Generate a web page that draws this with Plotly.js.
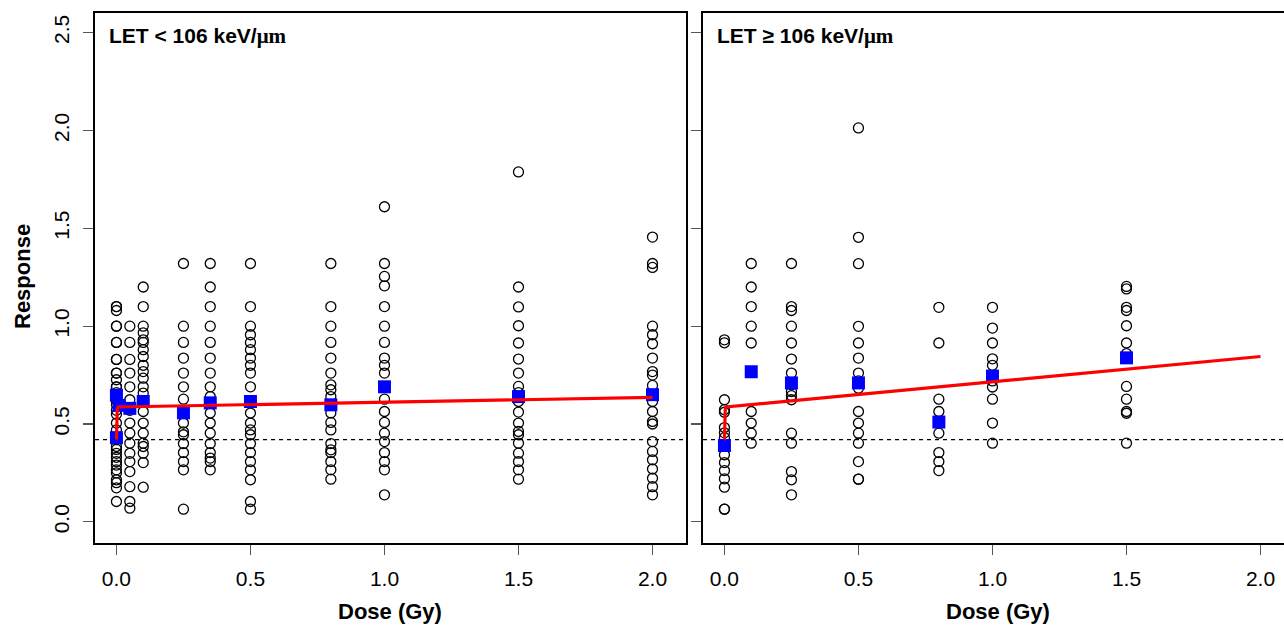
<!DOCTYPE html>
<html>
<head>
<meta charset="utf-8">
<script src="https://cdn.plot.ly/plotly-3.0.1.min.js"></script>
<style>
html,body{margin:0;padding:0;overflow:hidden;background:#fff;}
#chart{width:1300px;height:625px;}
</style>
</head>
<body>
<div id="chart"></div>
<script>
// ---- Data ----
const doseTicks = [0, 0.5, 1.0, 1.5, 2.0];
const doseTickText = ['0.0', '0.5', '1.0', '1.5', '2.0'];
const respTicks = [0, 0.5, 1.0, 1.5, 2.0, 2.5];
const respTickText = ['0.0', '0.5', '1.0', '1.5', '2.0', '2.5'];
const baseline = [0.42];

// Panel 1: LET < 106 keV/um, individual responses by dose
const lowDoses = [0, 0.05, 0.1, 0.25, 0.35, 0.5, 0.8, 1.0, 1.5, 2.0];
const low_0    = [1.10, 1.10, 1.08, 1.0, 1.0, 0.917, 0.917, 0.83, 0.83, 0.76, 0.76, 0.726, 0.69, 0.69, 0.66, 0.64, 0.62, 0.60, 0.57, 0.55, 0.505, 0.47, 0.436, 0.42, 0.385, 0.37, 0.35, 0.33, 0.308, 0.29, 0.266, 0.25, 0.215, 0.20, 0.174, 0.104];
const low_005  = [1.0, 0.917, 0.83, 0.76, 0.69, 0.624, 0.57, 0.505, 0.453, 0.402, 0.35, 0.308, 0.257, 0.18, 0.104, 0.07];
const low_01   = [1.20, 1.10, 1.0, 0.966, 0.93, 0.917, 0.88, 0.845, 0.80, 0.768, 0.734, 0.69, 0.658, 0.564, 0.505, 0.453, 0.402, 0.385, 0.351, 0.303, 0.177];
const low_025  = [1.32, 1.0, 0.917, 0.837, 0.76, 0.69, 0.627, 0.505, 0.46, 0.445, 0.40, 0.354, 0.308, 0.266, 0.065];
const low_035  = [1.32, 1.20, 1.10, 1.0, 0.917, 0.837, 0.76, 0.69, 0.64, 0.556, 0.505, 0.453, 0.40, 0.354, 0.326, 0.308, 0.266];
const low_05   = [1.32, 1.10, 1.0, 0.956, 0.917, 0.88, 0.837, 0.80, 0.76, 0.69, 0.556, 0.505, 0.47, 0.445, 0.40, 0.354, 0.308, 0.266, 0.215, 0.104, 0.065];
const low_08   = [1.32, 1.10, 1.0, 0.917, 0.837, 0.76, 0.70, 0.675, 0.64, 0.556, 0.508, 0.47, 0.40, 0.368, 0.354, 0.308, 0.266, 0.218];
const low_10   = [1.61, 1.32, 1.254, 1.206, 1.10, 1.0, 0.917, 0.837, 0.80, 0.76, 0.69, 0.627, 0.564, 0.508, 0.453, 0.41, 0.354, 0.308, 0.266, 0.138];
const low_15   = [1.788, 1.20, 1.098, 1.002, 0.914, 0.832, 0.76, 0.692, 0.66, 0.615, 0.561, 0.505, 0.462, 0.445, 0.402, 0.351, 0.308, 0.266, 0.218];
const low_20   = [1.455, 1.32, 1.30, 1.0, 0.956, 0.91, 0.837, 0.768, 0.75, 0.697, 0.615, 0.564, 0.513, 0.50, 0.41, 0.36, 0.317, 0.27, 0.223, 0.18, 0.138];
const lowGroups = [low_0, low_005, low_01, low_025, low_035, low_05, low_08, low_10, low_15, low_20];

// Panel 1 group means
const lowMeanDose = [0, 0, 0.01, 0.05, 0.1, 0.25, 0.35, 0.5, 0.8, 1.0, 1.5, 2.0];
const lowMeanResp = [0.43, 0.647, 0.595, 0.58, 0.615, 0.557, 0.608, 0.615, 0.598, 0.69, 0.64, 0.65];

// Panel 1 fitted curve
const lowFitDose = [0, 0.001, 0.003, 0.006, 2.0];
const lowFitResp = [0.42, 0.52, 0.575, 0.587, 0.636];

// Panel 2: LET >= 106 keV/um
const highDoses = [0, 0.1, 0.25, 0.5, 0.8, 1.0, 1.5];
const high_0   = [0.93, 0.915, 0.624, 0.573, 0.56, 0.482, 0.455, 0.43, 0.343, 0.303, 0.262, 0.22, 0.177, 0.065, 0.065];
const high_01  = [1.32, 1.20, 1.10, 1.0, 0.914, 0.564, 0.505, 0.453, 0.402];
const high_025 = [1.32, 1.10, 1.08, 1.0, 0.914, 0.832, 0.76, 0.70, 0.666, 0.645, 0.624, 0.453, 0.402, 0.257, 0.215, 0.138];
const high_05  = [2.013, 1.454, 1.319, 0.999, 0.914, 0.837, 0.76, 0.72, 0.683, 0.564, 0.505, 0.453, 0.402, 0.308, 0.218, 0.218];
const high_08  = [1.096, 0.914, 0.627, 0.564, 0.453, 0.354, 0.308, 0.262];
const high_10  = [1.096, 0.99, 0.914, 0.833, 0.80, 0.72, 0.689, 0.627, 0.505, 0.402];
const high_15  = [1.203, 1.19, 1.096, 1.08, 1.002, 0.914, 0.86, 0.692, 0.627, 0.564, 0.555, 0.402];
const highGroups = [high_0, high_01, high_025, high_05, high_08, high_10, high_15];

const highMeanDose = [0, 0.1, 0.25, 0.5, 0.8, 1.0, 1.5];
const highMeanResp = [0.39, 0.767, 0.71, 0.71, 0.51, 0.745, 0.838];

const highFitDose = [0, 0.001, 0.003, 0.006, 2.0];
const highFitResp = [0.42, 0.52, 0.575, 0.587, 0.845];

// ---- Build traces ----
function flatten(doses, groups) {
  const xs = [], ys = [];
  groups.forEach((g, i) => g.forEach(v => { xs.push(doses[i]); ys.push(v); }));
  return {x: xs, y: ys};
}
const lowPts = flatten(lowDoses, lowGroups);
const highPts = flatten(highDoses, highGroups);

const circleMarker = {symbol: 'circle-open', size: 10, color: '#000', line: {width: 1.3, color: '#000'}};
const squareMarker = {symbol: 'square', size: 13, color: '#0000FF', line: {width: 0}};
const fitLine = {color: '#FF0000', width: 3.2};

const traces = [
  {x: lowPts.x, y: lowPts.y, xaxis: 'x', yaxis: 'y', type: 'scatter', mode: 'markers', marker: circleMarker, hoverinfo: 'skip'},
  {x: lowMeanDose, y: lowMeanResp, xaxis: 'x', yaxis: 'y', type: 'scatter', mode: 'markers', marker: squareMarker},
  {x: lowFitDose, y: lowFitResp, xaxis: 'x', yaxis: 'y', type: 'scatter', mode: 'lines', line: fitLine},
  {x: highPts.x, y: highPts.y, xaxis: 'x2', yaxis: 'y2', type: 'scatter', mode: 'markers', marker: circleMarker, hoverinfo: 'skip'},
  {x: highMeanDose, y: highMeanResp, xaxis: 'x2', yaxis: 'y2', type: 'scatter', mode: 'markers', marker: squareMarker},
  {x: highFitDose, y: highFitResp, xaxis: 'x2', yaxis: 'y2', type: 'scatter', mode: 'lines', line: fitLine}
];

// ---- Layout ----
const W = 1300, H = 625;
const tickFont = {family: 'Liberation Sans, Arial, sans-serif', size: 21, color: '#000'};
const titleFont = {family: 'Liberation Sans, Arial, sans-serif', size: 22, color: '#000'};

function xAxis(domain, anchor) {
  return {
    domain: domain, anchor: anchor, range: [-0.08, 2.125],
    tickmode: 'array', tickvals: doseTicks, ticktext: doseTickText,
    ticks: 'outside', ticklen: 10, tickwidth: 1.2, tickcolor: '#555',
    tickfont: tickFont, ticklabelstandoff: 6,
    showline: true, linecolor: '#000', linewidth: 2, mirror: true,
    showgrid: false, zeroline: false, fixedrange: true
  };
}
function yAxis(anchor, labels) {
  return {
    domain: [1 - 543 / H, 1 - 13 / H], anchor: anchor, range: [-0.108, 2.60],
    tickmode: 'array', tickvals: respTicks, ticktext: respTickText,
    ticks: 'outside', ticklen: 10, tickwidth: 1.2, tickcolor: '#555',
    tickfont: tickFont, tickangle: -90, showticklabels: labels, ticklabelstandoff: 6,
    showline: true, linecolor: '#000', linewidth: 2, mirror: true,
    showgrid: false, zeroline: false, fixedrange: true
  };
}

const muSpan = '<span style="font-family:serif">μm</span>';
const layout = {
  width: W, height: H,
  margin: {l: 0, r: 0, t: 0, b: 0},
  paper_bgcolor: '#fff', plot_bgcolor: '#fff',
  showlegend: false,
  xaxis: xAxis([95 / W, 686 / W], 'y'),
  yaxis: yAxis('x', true),
  xaxis2: xAxis([703 / W, 1294 / W], 'y2'),
  yaxis2: yAxis('x2', false),
  shapes: [
    {type: 'line', xref: 'x domain', yref: 'y', x0: 0, x1: 1, y0: baseline[0], y1: baseline[0], line: {color: '#000', width: 1.1, dash: '4px,4px'}, layer: 'below'},
    {type: 'line', xref: 'x2 domain', yref: 'y2', x0: 0, x1: 1, y0: baseline[0], y1: baseline[0], line: {color: '#000', width: 1.1, dash: '4px,4px'}, layer: 'below'}
  ],
  annotations: [
    {xref: 'x domain', yref: 'y domain', x: 0.0203, y: 0.956, xanchor: 'left', yanchor: 'middle', showarrow: false,
     text: '<b>LET &lt; 106 keV/' + muSpan + '</b>', font: {family: 'Liberation Sans, Arial, sans-serif', size: 21, color: '#000'}},
    {xref: 'x2 domain', yref: 'y2 domain', x: 0.0203, y: 0.956, xanchor: 'left', yanchor: 'middle', showarrow: false,
     text: '<b>LET ≥ 106 keV/' + muSpan + '</b>', font: {family: 'Liberation Sans, Arial, sans-serif', size: 21, color: '#000'}},
    {xref: 'paper', yref: 'paper', x: 390 / W, y: 1 - 611 / H, xanchor: 'center', yanchor: 'middle', showarrow: false,
     text: '<b>Dose (Gy)</b>', font: titleFont},
    {xref: 'paper', yref: 'paper', x: 998 / W, y: 1 - 611 / H, xanchor: 'center', yanchor: 'middle', showarrow: false,
     text: '<b>Dose (Gy)</b>', font: titleFont},
    {xref: 'paper', yref: 'paper', x: 22 / W, y: 1 - 277 / H, xanchor: 'center', yanchor: 'middle', showarrow: false, textangle: -90,
     text: '<b>Response</b>', font: titleFont}
  ]
};

Plotly.newPlot('chart', traces, layout, {displayModeBar: false, staticPlot: true});
</script>
</body>
</html>
